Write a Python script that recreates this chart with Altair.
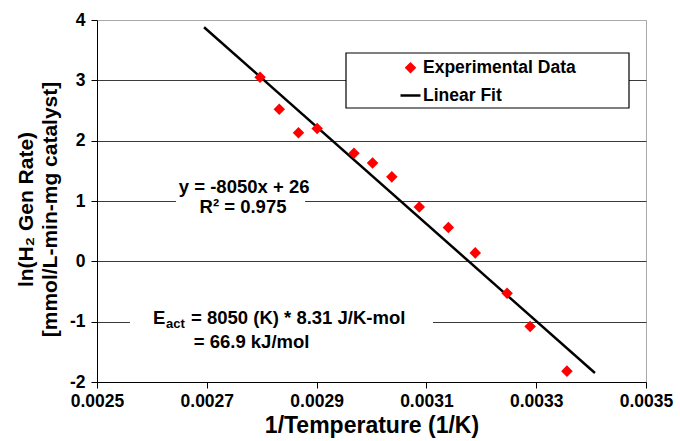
import altair as alt
import pandas as pd

# ---- data ----
inv_temp = [0.002797, 0.002832, 0.002867, 0.002901, 0.002968, 0.003002, 0.003037,
            0.003087, 0.003140, 0.003189, 0.003247, 0.003289, 0.003356]
ln_rate = [3.05, 2.52, 2.13, 2.20, 1.79, 1.63, 1.40, 0.90, 0.56, 0.14, -0.53, -1.08, -1.82]

fit_x = [0.002695, 0.003407]
fit_y = [3.88, -1.85]

series_names = ["Experimental Data", "Linear Fit"]
x_ticks = [0.0025, 0.0027, 0.0029, 0.0031, 0.0033, 0.0035]
y_ticks = [-2, -1, 0, 1, 2, 3, 4]

eq_lines = ["y = -8050x + 26", "R\u00b2 = 0.975"]
eq_x = [0.002768, 0.002766]
eq_y = [1.23, 0.90]

e_main = ["E"]
e_sub = ["act"]
e_rest = ["= 8050 (K) * 8.31 J/K-mol", "= 66.9 kJ/mol"]
e_x = 0.002602
e_rest_x = [0.002602, 0.002607]
e_y = [-0.94, -1.34]

mask_x = [0.002644, 0.00256]
mask_x2 = [0.002879, 0.003112]
mask_y = [1.43, -0.73]
mask_y2 = [0.68, -1.56]

FONT = "Liberation Sans"
TICK_FS = 17.5
TITLE_FS = 21
XTITLE_FS = 23
NOTE_FS = 18.5

pts = pd.DataFrame({"x": inv_temp, "y": ln_rate, "series": series_names[0]})
fit = pd.DataFrame({"x": fit_x, "y": fit_y})
eq = pd.DataFrame({"text": eq_lines, "x": eq_x, "y": eq_y})
masks = pd.DataFrame({"x": mask_x, "x2": mask_x2, "y": mask_y, "y2": mask_y2})
e1 = pd.DataFrame({"text": e_main, "x": [e_x], "y": [e_y[0]]})
e2 = pd.DataFrame({"text": e_sub, "x": [e_x], "y": [e_y[0]]})
e3 = pd.DataFrame({"text": e_rest, "x": e_rest_x, "y": e_y})

xscale = alt.Scale(domain=[0.0025, 0.0035], nice=False, zero=False)
yscale = alt.Scale(domain=[-2, 4], nice=False, zero=False)

xenc = alt.X("x:Q", scale=xscale, axis=alt.Axis(
    values=x_ticks, format=".4f", title="1/Temperature (1/K)", grid=False,
    labelFontSize=TICK_FS, labelFontWeight="bold", labelFont=FONT, labelColor="black",
    titleFontSize=XTITLE_FS, titleFontWeight="bold", titleFont=FONT, titleColor="black",
    titlePadding=5, tickSize=6, tickColor="black", domainColor="black",
    labelPadding=4, labelFlush=False))
yenc = alt.Y("y:Q", scale=yscale, axis=alt.Axis(
    values=y_ticks, format="d",
    labelExpr="replace(datum.label, '\u2212', '-')",
    title=["ln(H\u2082 Gen Rate)" + "\u00a0" * 7, "[mmol/L-min-mg catalyst]"],
    grid=True,
    gridColor={"condition": {"test": "datum.value == 4", "value": "#aaaaaa"}, "value": "#3a3a3a"},
    labelFontSize=TICK_FS, labelFontWeight="bold", labelFont=FONT, labelColor="black",
    titleFontSize=TITLE_FS, titleFontWeight="bold", titleFont=FONT, titleColor="black",
    titleLineHeight=24, titleX=-61, titleY=189,
    tickSize=6, tickColor="black", domainColor="black", labelPadding=6))

base_x = alt.X("x:Q", scale=xscale)
base_y = alt.Y("y:Q", scale=yscale)

mask_layer = alt.Chart(masks).mark_rect(color="white").encode(
    x=base_x, x2="x2:Q", y=base_y, y2="y2:Q")

# frame behind the legend entries (legend box of the original)
legend_frame = alt.Chart(pd.DataFrame({"k": [0]})).mark_rect(
    fill="white", stroke="black", strokeWidth=1.2).encode(
    x=alt.value(249), x2=alt.value(532), y=alt.value(33), y2=alt.value(88))

fit_layer = alt.Chart(fit).mark_line(color="black", strokeWidth=2.5).encode(x=xenc, y=yenc)

legend = alt.Legend(title=None, orient="none", legendX=249, legendY=35,
                    padding=4,
                    labelFontSize=17.5, labelFontWeight="bold", labelFont=FONT,
                    labelColor="black", rowPadding=7, symbolOffset=49,
                    symbolStrokeWidth=2.5, labelOffset=1, labelLimit=400)

pt_layer = alt.Chart(pts).mark_point(filled=True, strokeWidth=2.5, opacity=1).encode(
    x=base_x, y=base_y,
    color=alt.Color("series:N", scale=alt.Scale(domain=series_names, range=["red", "black"]), legend=legend),
    stroke=alt.Stroke("series:N", scale=alt.Scale(domain=series_names, range=["red", "black"]), legend=legend),
    shape=alt.Shape("series:N", scale=alt.Scale(domain=series_names, range=["diamond", "stroke"]), legend=legend),
    size=alt.Size("series:N", scale=alt.Scale(domain=series_names, range=[64, 400]), legend=legend),
)

eq_layer = alt.Chart(eq).mark_text(font=FONT, fontSize=NOTE_FS, fontWeight="bold", color="black",
                                   align="center", baseline="middle").encode(
    x=base_x, y=base_y, text="text:N")

e1_layer = alt.Chart(e1).mark_text(font=FONT, fontSize=NOTE_FS, fontWeight="bold", color="black",
                                   align="left", baseline="middle").encode(
    x=base_x, y=base_y, text="text:N")
e2_layer = alt.Chart(e2).mark_text(font=FONT, fontSize=13, fontWeight="bold", color="black",
                                   align="left", baseline="middle", dx=13, dy=6).encode(
    x=base_x, y=base_y, text="text:N")
e3_layer = alt.Chart(e3).mark_text(font=FONT, fontSize=NOTE_FS, fontWeight="bold", color="black",
                                   align="left", baseline="middle", dx=38).encode(
    x=base_x, y=base_y, text="text:N")

chart = alt.layer(fit_layer, mask_layer, legend_frame, pt_layer, eq_layer, e1_layer, e2_layer, e3_layer).properties(
    width=549, height=362,
    padding={"left": 97, "top": 20, "right": 34, "bottom": 59},
    autosize=alt.AutoSizeParams(type="none"),
    background="white",
).configure_view(stroke="#aaaaaa", strokeWidth=1)

chart.save("out.html", embed_options={"renderer": "svg", "actions": False})
